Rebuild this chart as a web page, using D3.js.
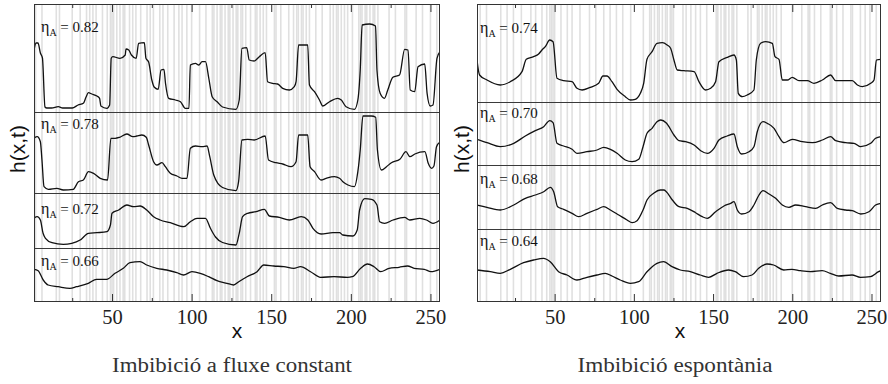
<!DOCTYPE html>
<html>
<head>
<meta charset="utf-8">
<script src="https://cdn.jsdelivr.net/npm/d3@7"></script>
<style>
  body { margin: 0; background: #fff; }
  svg { display: block; }
</style>
</head>
<body>
<svg id="chart" width="888" height="384"></svg>
<script>
// ---- data -----------------------------------------------------------
const xDomain = [1, 256];
const majorTicks = [50, 100, 150, 200, 250];
const minorTicks = [25, 75, 125, 175, 225];

// constant-flux imbibition: interface h(x,t) at four capillary numbers
const fluxEta = ["0.82", "0.78", "0.72", "0.66"];
const fluxExtent = [108, 81, 55, 54];   // vertical h-range of each strip

const flux82 = [[1,62],[2.3,69],[3.5,69],[5,59],[6.3,54],[7.9,5],[9,4],[12,4],[16.3,5.3],[19,4],[25,4],[28.7,7],[32,8.7],[33.7,15],[35.2,19.3],[37.3,18],[40.5,16],[42.2,13.7],[43,6],[46.8,3.7],[48.5,7],[49.5,53.7],[50.5,55.3],[55,53.7],[58.3,57],[58.8,63],[60.5,62],[62.2,57],[65.2,53.7],[66.7,68.7],[70.3,69.3],[71.3,53.7],[73,50],[75,32],[76.6,24.7],[79,22.7],[80.8,42],[82.6,42.7],[83.6,28.7],[85.6,13.7],[89.8,12],[93,10.3],[96,3.7],[98.3,3.7],[99.2,47],[102.4,48.7],[104.5,47],[106.6,50.3],[108.7,50.3],[110.8,33.7],[112.9,15.3],[116,10.3],[119.4,5],[127.8,2.7],[129.9,12],[131.6,63.7],[134.6,64.3],[136.2,52],[139.3,51],[142.5,55.3],[146.2,59.3],[147.7,30.3],[150.8,28.7],[154,28],[157.2,23.7],[161.4,22],[164.5,25.3],[165.6,30.3],[167.2,67],[172.9,67],[174,27],[177.2,20.3],[180.3,12],[182.4,6],[186.6,10.3],[191.8,13.7],[194,12],[197,5.3],[202.3,2.7],[204.4,12],[205.9,42],[207.1,87],[211.8,88],[215.5,86],[216.4,42],[218.4,18.7],[221.1,13.7],[223.2,22],[226.4,34.7],[230.6,37],[233.8,62.7],[235.9,62],[237.3,22],[240.1,20.3],[242.2,45.3],[246.4,48],[247.9,18.7],[249.9,6],[251.6,7],[254.1,53.7],[256,60.3]];

const flux78 = [[1,54.7],[3,56.3],[5,51.3],[6,33],[7.3,6.3],[10,3.7],[15.3,4.7],[19.4,3],[25.7,3.7],[28.9,11.3],[32,13],[35.2,21.3],[38.4,19.7],[42.6,14.7],[47.2,13],[49.3,54.7],[52,54.7],[54.8,55.7],[59.3,59],[63.1,56.3],[65.6,57],[68.7,58],[71.5,55.7],[73,48],[76.1,31.3],[78.2,28],[81.4,30.3],[83.5,26.3],[86.6,19.7],[90.8,17],[94,14.7],[97.1,14.7],[99.2,44.7],[102.4,47],[106.6,46.3],[109.7,47],[111.4,36.3],[113.9,18],[119.4,5.5],[127.8,2.3],[129.5,11.3],[131.6,53],[135.2,53.7],[139.3,53],[146.2,57],[148.3,33],[152.9,30.3],[157.2,29],[162.4,26.3],[165.6,31.3],[167.2,58],[172.9,58],[174.4,26.3],[177.2,21.3],[181.3,13],[184.5,14.7],[189.7,16.3],[192.9,14.7],[195,11.3],[198.2,8],[202.3,6.3],[204.4,21.3],[205.9,43],[207.6,77],[212.9,77],[215.6,75.7],[216.7,43],[219.2,23],[222.4,26.3],[225.5,30.3],[230.8,33.7],[234.6,41.3],[237.1,36.3],[240.2,39],[246.5,41.3],[248.6,29.7],[250.7,24.7],[252.2,27],[253.8,46.3],[256,51]];

const flux72 = [[1,29.7],[3,31.3],[5,28],[6.7,14.7],[8.2,9.7],[12.3,5.3],[19.4,3.7],[24.7,4.7],[30,8],[35.2,14.7],[40.5,15.3],[46.8,16.3],[49,23],[50,34.7],[54.2,38],[59.3,43],[63.5,41.3],[67.7,42],[71.8,38],[76.1,31.3],[80.2,28],[86.6,25.3],[95,21.3],[99.2,26.3],[103.4,29.7],[108.7,29.7],[111.8,19.7],[115,11],[119.4,5.5],[127.8,3],[129.9,14.7],[132,31.3],[135.2,34.7],[140.4,36.3],[145.7,38.7],[148.8,32],[155.1,30.7],[161.4,28],[168.8,31.3],[173,28],[176.2,19.7],[181.3,14],[188.7,15.3],[192.9,15.3],[195,13],[201.3,12],[204,18],[205.5,38],[208.7,49.3],[212.9,48.7],[216.4,43],[218.1,26.3],[221.2,24.7],[226.5,28],[233.8,30.7],[237,28],[243.3,29.7],[247.5,28],[251.6,24.7],[256,28]];

const flux66 = [[1,32.7],[3.6,31.3],[6.8,22],[9.9,17],[16.2,15.3],[23.6,13.7],[27.7,15.3],[35.1,18.7],[40.3,22.7],[46.6,22.7],[51.9,28.7],[57.1,33.7],[61.3,39.3],[67.6,40.3],[71.8,37],[78.1,33.7],[84.4,32],[90.7,29.3],[94.9,27],[100.2,30.3],[105.4,28.7],[110.7,25.3],[115.9,21.3],[122.2,18.7],[126.4,17],[129.6,20.3],[134.8,25.3],[141.1,30.3],[145.3,37],[151.6,36],[157.9,35.3],[164.2,33.7],[168.4,35.3],[174.7,30.3],[181,24.7],[189.4,25.3],[197.8,24.7],[200.9,25.3],[206.2,33.7],[210.4,38],[214.6,35.3],[218.8,30.3],[224,33.7],[230.3,34.7],[235.6,36],[239.8,33.7],[246.1,32.7],[250.3,30.3],[256,32.7]];

// columns of the disorder that are pinning sites (constant flux)
const fluxPinned = [2,6,15,17,25,30,34,36,38,40,44,47,49,50,51,53,55,57,58,61,63,65,68,72,74,76,80,82,85,89,92,94,97,100,105,109,113,114,116,118,119,121,123,124,126,128,129,131,132,134,137,140,141,143,145,147,152,153,156,161,164,166,167,169,170,172,174,178,182,187,189,191,192,194,196,198,201,205,206,207,209,210,212,214,215,217,224,228,234,235,241,245,250,254];

// spontaneous imbibition
const spontEta = ["0.74", "0.70", "0.68", "0.64"];
const spontExtent = [98, 63, 64, 73];

const spont74 = [[1,42],[2.6,27],[7.3,22],[15.7,17],[22,20.3],[29.4,30.3],[32.1,42.7],[36.7,45.3],[39.9,48],[42,52],[44.1,55.3],[46.9,62],[49,60.3],[51.5,23.7],[55.7,21.3],[61,20.3],[64.1,13.7],[67.3,12],[72.5,14.7],[77.8,18.7],[80.5,26],[83,26],[86.2,20.3],[89.4,12.7],[94.6,5.3],[97.8,2],[100.9,2.7],[104.1,8.7],[106.2,18.7],[108.3,42.7],[111.5,50.3],[114.6,58.7],[118,59.3],[121,57],[123.2,53.7],[125.3,42],[127.4,32],[131.6,31.3],[138,30.3],[141.1,20.3],[145.3,12],[148.5,13.7],[151.6,20.3],[153.7,40.3],[159,44.7],[163.2,47],[164.7,42],[165.9,8.7],[168.5,5.3],[171.6,7],[175.8,12],[177.3,42],[180,58.7],[183.2,60.3],[187.4,58.7],[189.1,45.3],[191.6,42.7],[193.7,22],[196.9,22],[200,24.7],[204.2,21.3],[209.5,21.3],[213.7,18.7],[219,22],[224.2,27],[227.4,21.3],[233.7,21.3],[237.9,21.3],[241.1,17],[244.2,15.3],[249.5,18.7],[251.6,22],[253.1,42],[256,42.7]];

const spont70 = [[1,25.7],[7.3,22.3],[15.7,18.3],[24.2,21.7],[31.5,29],[37.8,34.3],[43.1,38.3],[46.9,44.3],[49,42.3],[51.5,21.7],[55.7,19],[61,15.7],[64.1,11.7],[70.4,13.3],[76.8,15],[81,17.7],[85.2,15.7],[89.4,11.7],[94.6,5],[98.9,3.3],[103.1,5.7],[105.8,18.3],[108.3,31.7],[111.5,36.7],[114.6,43.3],[117,45],[120.5,42],[125.3,30],[128.5,24.3],[132.7,23.3],[138,20],[142.2,14.3],[146.4,11.7],[150.6,16.7],[153.7,25],[159,29],[163.2,31],[165.3,18.3],[168,11],[172.7,13.3],[175.8,18.3],[177.9,33.3],[181.5,43.3],[184.2,41.7],[188.5,36.7],[191.6,28.3],[194.8,22.3],[200,25.7],[206.3,23.3],[212.7,22.3],[219,25],[224.2,28.3],[227.4,24.3],[233.7,22.3],[239,21.7],[243.2,18.3],[249.5,21.7],[252.6,26.7],[256,28.3]];

const spont68 = [[1,24],[7.3,21.7],[15.7,19],[24.2,24],[31.5,30.7],[37.8,34],[43.1,37.3],[47.3,41.7],[49.4,37.3],[51.9,22.3],[55.7,19.7],[61,15.7],[65.2,12.3],[70.4,15.7],[76.8,19.7],[81,22.3],[85.2,19],[90.5,14],[95.7,9],[98.9,6.3],[102,8.3],[105.8,19],[108.3,29],[112.5,35.7],[116.8,39],[119,39],[120.5,37.3],[124.3,29],[128.5,22.3],[133.7,20.7],[139,16.3],[143.2,12.3],[146.4,10.7],[151.6,17.3],[156.9,23],[161.1,25.7],[163.2,27.3],[165.3,19],[168,15],[172.7,17.3],[175.8,24],[179,34],[181.5,38.3],[185.3,35],[189.5,30.7],[193.7,24],[197.9,21.7],[202.1,24],[208.4,22.3],[214.8,20.7],[219,24],[224.2,26.3],[228.4,20.7],[233.7,19],[237.9,18.3],[243.2,15],[248.4,17.3],[252.6,24],[256,25.7]];

const spont64 = [[1,32],[9.4,30.3],[15.7,28.7],[22,32.7],[30.4,39.3],[36.7,42],[43,43.7],[47.2,40.3],[52.5,30.3],[57.8,27],[64.1,22],[70.4,24.7],[76.7,27],[82,28.7],[86.2,26],[91.4,22],[97.8,18.7],[103,20.3],[108.3,30.3],[114.6,38.7],[118.8,40.3],[124.1,35.3],[129.3,32],[135.6,30.3],[141.9,27],[147.2,24.7],[152.5,28.7],[159.8,32],[164,30.3],[169.3,25.3],[174.6,27],[178.8,33.7],[184,38],[188.2,37],[194.6,32],[199.8,32.7],[205.1,31.3],[211.4,30.3],[218.8,31.3],[224,28.7],[229.3,26],[237.7,27],[243,24.7],[249.3,25.3],[254.5,30.3],[256,31.3]];

const spontPinned = [3,7,16,20,24,29,35,38,42,45,47,48,49,50,54,58,61,66,72,76,81,85,89,93,98,106,110,111,113,115,116,118,120,121,123,124,125,131,133,136,139,142,146,152,153,155,157,158,160,162,163,165,172,174,178,179,181,183,184,186,188,190,193,200,206,210,211,214,218,224,225,228,232,237,238,243,246,249,253];

// ---- layout ---------------------------------------------------------
const plotTop = 4, plotBottom = 302;

const panels = [
  { x0: 34, x1: 440, title: "Imbibició a fluxe constant", titleX: 232, titleW: 240, xLabelX: 237,
    yLabelX: 25, etas: fluxEta, extent: fluxExtent,
    curves: [flux82, flux78, flux72, flux66], pinned: fluxPinned,
    labelDx: 7, labelDy: [28, 17, 21, 18] },
  { x0: 477, x1: 881, title: "Imbibició espontània", titleX: 675, titleW: 195, xLabelX: 680,
    yLabelX: 469, etas: spontEta, extent: spontExtent,
    curves: [spont74, spont70, spont68, spont64], pinned: spontPinned,
    labelDx: 3, labelDy: [29, 16, 19, 17] }
];

const serif = "'Liberation Serif', 'Times New Roman', serif";
const sans = "'Liberation Sans', Arial, sans-serif";

const svg = d3.select("#chart");
const defs = svg.append("defs");

panels.forEach((p, i) => {
  const x = d3.scaleLinear().domain(xDomain).range([p.x0, p.x1]);
  const stack = d3.scaleLinear().domain([0, d3.sum(p.extent)]).range([plotTop, plotBottom]);

  const clipId = "plot-clip-" + i;
  defs.append("clipPath").attr("id", clipId).append("rect")
    .attr("x", p.x0).attr("y", plotTop)
    .attr("width", p.x1 - p.x0).attr("height", plotBottom - plotTop);

  const g = svg.append("g");
  const inner = g.append("g").attr("clip-path", `url(#${clipId})`);

  // pinning columns of the disorder, full height
  const colW = x(2) - x(1);
  inner.append("g").selectAll("rect")
    .data(p.pinned)
    .join("rect")
      .attr("x", d => x(d) - colW / 2)
      .attr("y", plotTop)
      .attr("width", colW)
      .attr("height", plotBottom - plotTop)
      .attr("fill", "#e0e0e0");

  // one strip per front
  let acc = 0;
  p.extent.forEach((ext, k) => {
    const yTop = stack(acc), yBot = stack(acc + ext);
    acc += ext;
    const y = d3.scaleLinear().domain([0, ext]).range([yBot, yTop]);

    if (k > 0) {
      g.append("line")
        .attr("x1", p.x0).attr("x2", p.x1)
        .attr("y1", Math.round(yTop) + 0.5).attr("y2", Math.round(yTop) + 0.5)
        .attr("stroke", "#3a3a3a").attr("stroke-width", 1);
    }

    const line = d3.line()
      .x(d => x(d[0]))
      .y(d => y(d[1]))
      .curve(d3.curveMonotoneX);

    inner.append("path")
      .datum(p.curves[k])
      .attr("d", line)
      .attr("fill", "none")
      .attr("stroke", "#111")
      .attr("stroke-width", 1.3)
      .attr("stroke-linejoin", "round");

    const lab = g.append("text")
      .attr("x", p.x0 + p.labelDx)
      .attr("y", yTop + p.labelDy[k])
      .attr("font-family", serif)
      .attr("fill", "#111");
    lab.append("tspan").attr("font-size", 16).text("η");
    lab.append("tspan").attr("font-size", 10).attr("dy", 4).text("A");
    lab.append("tspan").attr("font-size", 15).attr("dy", -4).text(" = " + p.etas[k]);
  });

  // frame
  g.append("rect")
    .attr("x", p.x0 + 0.5).attr("y", plotTop + 0.5)
    .attr("width", p.x1 - p.x0 - 1).attr("height", plotBottom - plotTop - 1)
    .attr("fill", "none").attr("stroke", "#333").attr("stroke-width", 1);

  // ticks on bottom and top edges, pointing inward
  const tickStyle = sel => {
    sel.select(".domain").remove();
    sel.selectAll(".tick line").attr("stroke", "#333").attr("stroke-width", 1);
  };
  g.append("g").attr("transform", `translate(0,${plotBottom})`)
    .call(d3.axisBottom(x).tickValues(minorTicks).tickSize(-4).tickFormat(""))
    .call(tickStyle);
  g.append("g").attr("transform", `translate(0,${plotTop})`)
    .call(d3.axisTop(x).tickValues(minorTicks).tickSize(-4).tickFormat(""))
    .call(tickStyle);
  g.append("g").attr("transform", `translate(0,${plotTop})`)
    .call(d3.axisTop(x).tickValues(majorTicks).tickSize(-8).tickFormat(""))
    .call(tickStyle);
  const bx = g.append("g").attr("transform", `translate(0,${plotBottom})`)
    .call(d3.axisBottom(x).tickValues(majorTicks).tickSize(-8).tickFormat(d3.format("d")))
    .call(tickStyle);
  bx.selectAll(".tick text")
    .attr("y", 21.5).attr("dy", null)
    .attr("font-family", serif).attr("font-size", 20.5).attr("fill", "#222");

  // axis titles
  g.append("text")
    .attr("x", p.xLabelX).attr("y", 338)
    .attr("text-anchor", "middle")
    .attr("font-family", sans).attr("font-size", 21).attr("fill", "#111")
    .text("x");
  g.append("text")
    .attr("transform", `translate(${p.yLabelX},149) rotate(-90)`)
    .attr("text-anchor", "middle")
    .attr("font-family", sans).attr("font-size", 21).attr("fill", "#111")
    .text("h(x,t)");

  // caption
  g.append("text")
    .attr("x", p.titleX).attr("y", 372)
    .attr("text-anchor", "middle")
    .attr("font-family", serif).attr("font-size", 20.5).attr("fill", "#333")
    .attr("textLength", p.titleW).attr("lengthAdjust", "spacingAndGlyphs")
    .text(p.title);
});
</script>
</body>
</html>
